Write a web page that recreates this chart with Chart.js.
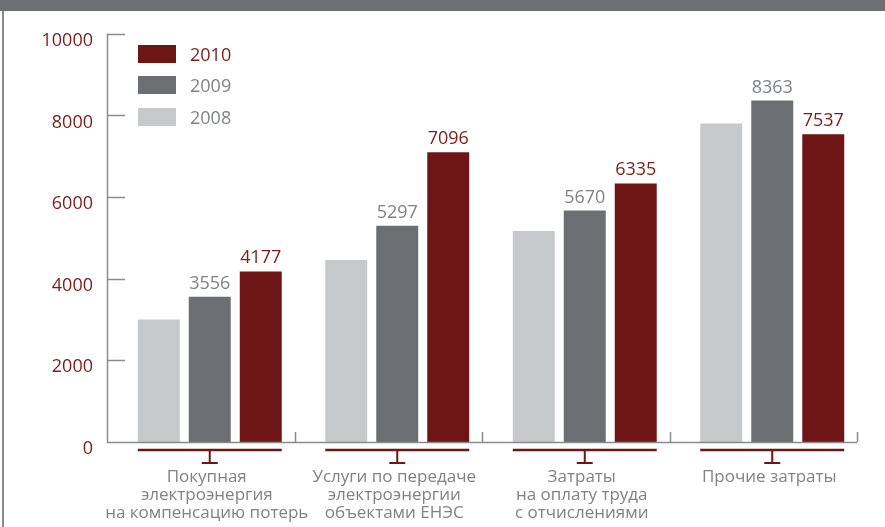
<!DOCTYPE html>
<html>
<head>
<meta charset="utf-8">
<script src="https://cdn.jsdelivr.net/npm/chart.js@4/dist/chart.umd.min.js"></script>
<style>
html,body{margin:0;padding:0;background:#fff;}
#wrap{position:relative;width:885px;height:527px;}
</style>
</head>
<body>
<div id="wrap"><canvas id="c" width="885" height="527"></canvas></div>
<script>
const categories = [
  ["Покупная", "электроэнергия", "на компенсацию потерь"],
  ["Услуги по передаче", "электроэнергии", "объектами ЕНЭС"],
  ["Затраты", "на оплату труда", "с отчислениями"],
  ["Прочие затраты"]
];
const years = ["2008", "2009", "2010"];
const values2008 = [3000, 4460, 5170, 7800];
const values2009 = [3556, 5297, 5670, 8363];
const values2010 = [4177, 7096, 6335, 7537];
const yTicks = [0, 2000, 4000, 6000, 8000, 10000];

const RED = '#6e1515';
const DGRAY = '#6d6e71';
const LGRAY = '#c7c8ca';
const RED_TEXT = '#7a1d1d';
const GRAY_TEXT = '#808285';
const FONT = '"Open Sans", "Noto Sans", sans-serif';

const decor = {
  id: 'decor',
  beforeDraw(chart) {
    const ctx = chart.ctx;
    ctx.save();
    ctx.fillStyle = '#fff';
    ctx.fillRect(0, 0, chart.width, chart.height);
    ctx.restore();
  },
  afterDraw(chart) {
    const ctx = chart.ctx;
    const ca = chart.chartArea;
    const ys = chart.scales.y;
    const shift = 9;
    const axisX = ca.left - shift;
    const catW = (ca.right - ca.left) / categories.length;
    const axisRight = ca.right - shift;
    const y0 = ys.getPixelForValue(0);
    ctx.save();
    // top band
    ctx.fillStyle = DGRAY;
    ctx.fillRect(0, 0, chart.width, 11);
    // left border
    ctx.strokeStyle = '#8a8b8e';
    ctx.lineWidth = 2;
    ctx.beginPath(); ctx.moveTo(3, 11); ctx.lineTo(3, chart.height); ctx.stroke();
    // y axis
    ctx.strokeStyle = '#8a8b8e';
    ctx.lineWidth = 1.5;
    ctx.beginPath();
    ctx.moveTo(axisX + 0.5, ys.getPixelForValue(10000));
    ctx.lineTo(axisX + 0.5, y0 + 0.5);
    ctx.lineTo(axisRight, y0 + 0.5);
    ctx.stroke();
    yTicks.forEach(v => {
      if (v === 0) return;
      const py = Math.round(ys.getPixelForValue(v)) + 0.5;
      ctx.beginPath(); ctx.moveTo(axisX, py); ctx.lineTo(axisX + 18, py); ctx.stroke();
    });
    // category boundary ticks
    for (let i = 1; i <= categories.length; i++) {
      const bx = Math.round(axisX + i * catW) + 0.5;
      ctx.beginPath(); ctx.moveTo(bx, y0 - 10); ctx.lineTo(bx, y0); ctx.stroke();
    }
    // brackets and labels
    const m0 = chart.getDatasetMeta(0), m2 = chart.getDatasetMeta(2);
    categories.forEach((lines, i) => {
      const b0 = m0.data[i], b2 = m2.data[i];
      const left = b0.x - b0.width / 2;
      const right = b2.x + b2.width / 2;
      const cx = (left + right) / 2;
      ctx.strokeStyle = RED;
      ctx.lineWidth = 2.5;
      ctx.beginPath(); ctx.moveTo(left, 450); ctx.lineTo(right, 450); ctx.stroke();
      ctx.lineWidth = 2;
      ctx.beginPath(); ctx.moveTo(cx, 450); ctx.lineTo(cx, 463); ctx.stroke();
      ctx.beginPath(); ctx.moveTo(cx - 8, 463); ctx.lineTo(cx + 8, 463); ctx.stroke();
      ctx.fillStyle = GRAY_TEXT;
      ctx.font = '17px ' + FONT;
      ctx.textAlign = 'center';
      ctx.textBaseline = 'middle';
      lines.forEach((t, k) => ctx.fillText(t, cx - 3, 477 + k * 18));
    });
    // value labels
    ctx.font = '18px ' + FONT;
    ctx.textAlign = 'center';
    ctx.textBaseline = 'alphabetic';
    [1, 2].forEach(di => {
      const meta = chart.getDatasetMeta(di);
      const ds = chart.data.datasets[di];
      ctx.fillStyle = di === 2 ? RED_TEXT : GRAY_TEXT;
      meta.data.forEach((bar, i) => {
        ctx.fillText(String(ds.data[i]), bar.x, bar.y - 8);
      });
    });
    // legend
    const legend = [
      {label: years[2], color: RED, text: RED_TEXT, y: 45},
      {label: years[1], color: DGRAY, text: GRAY_TEXT, y: 76},
      {label: years[0], color: LGRAY, text: GRAY_TEXT, y: 108}
    ];
    ctx.font = '18px ' + FONT;
    ctx.textAlign = 'left';
    ctx.textBaseline = 'middle';
    legend.forEach(l => {
      ctx.fillStyle = l.color;
      ctx.fillRect(138, l.y, 38, 18);
      ctx.fillStyle = l.text;
      ctx.fillText(l.label, 190, l.y + 11);
    });
    ctx.restore();
  }
};

new Chart(document.getElementById('c'), {
  type: 'bar',
  data: {
    labels: categories,
    datasets: [
      {label: years[0], data: values2008, backgroundColor: LGRAY},
      {label: years[1], data: values2009, backgroundColor: DGRAY},
      {label: years[2], data: values2010, backgroundColor: RED}
    ]
  },
  options: {
    responsive: false,
    animation: false,
    devicePixelRatio: 1,
    layout: {padding: {left: 0, right: 19, top: 32, bottom: 85}},
    categoryPercentage: 0.816,
    barPercentage: 0.823,
    plugins: {legend: {display: false}, tooltip: {enabled: false}},
    scales: {
      x: {display: false},
      y: {
        min: 0, max: 10000,
        afterBuildTicks: s => { s.ticks = yTicks.map(v => ({value: v})); },
        afterFit: s => { s.width = 116; },
        grid: {display: false, drawTicks: false},
        border: {display: false},
        ticks: {
          padding: 23,
          labelOffset: 7,
          color: RED_TEXT,
          font: {family: FONT, size: 18},
          callback: v => String(v)
        }
      }
    }
  },
  plugins: [decor]
});
</script>
</body>
</html>
